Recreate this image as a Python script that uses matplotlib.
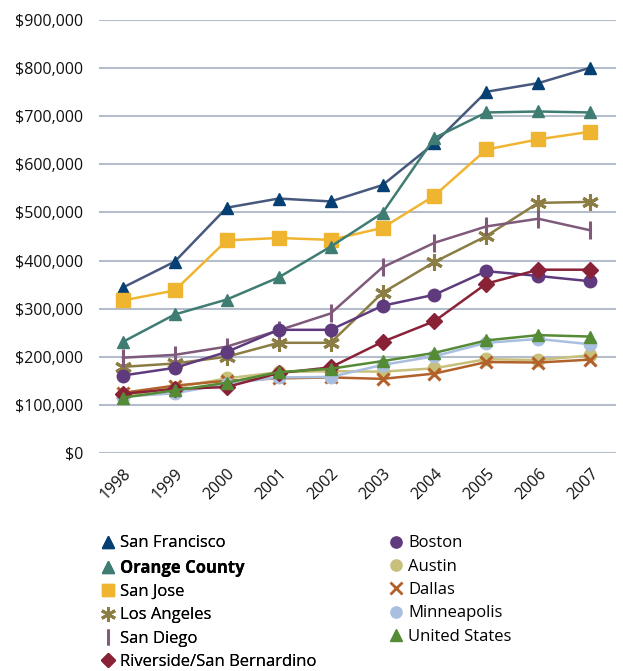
import matplotlib
matplotlib.use("Agg")
import matplotlib.pyplot as plt
from matplotlib.lines import Line2D
from matplotlib.ticker import FuncFormatter

plt.rcParams['font.family'] = ['Open Sans', 'DejaVu Sans']

years = ['1998', '1999', '2000', '2001', '2002', '2003', '2004', '2005', '2006', '2007']

san_francisco = [344000, 398000, 510000, 529000, 523000, 557000, 644000, 751000, 769000, 801000]
orange_county = [231000, 288000, 319000, 365000, 429000, 499000, 655000, 708000, 710000, 708000]
san_jose = [317000, 338000, 442000, 447000, 443000, 468000, 535000, 631000, 652000, 668000]
los_angeles = [179000, 186000, 200000, 229000, 229000, 333000, 397000, 451000, 520000, 522000]
san_diego = [198000, 204000, 221000, 255000, 290000, 386000, 437000, 471000, 487000, 463000]
riverside = [123000, 133000, 137000, 166000, 178000, 231000, 274000, 352000, 381000, 381000]
boston = [161000, 177000, 210000, 256000, 256000, 306000, 329000, 378000, 368000, 357000]
austin = [119000, 136000, 155000, 168000, 170000, 169000, 176000, 195000, 193000, 203000]
dallas = [125000, 140000, 150000, 155000, 157000, 154000, 165000, 189000, 188000, 194000]
minneapolis = [117000, 124000, 144000, 157000, 158000, 183000, 201000, 229000, 237000, 226000]
united_states = [115000, 130000, 146000, 168000, 175000, 191000, 208000, 234000, 245000, 242000]

# name, values, line colour, marker colour, marker, marker size, zorder
series = [
    ('San Francisco', san_francisco, '#46597d', '#063f73', '^', 9, 3),
    ('Orange County', orange_county, '#3f7d73', '#3f7d73', '^', 9, 4),
    ('San Jose', san_jose, '#f0b530', '#f0b530', 's', 10, 3),
    ('Los Angeles', los_angeles, '#8c7d45', '#8c7d45', (6, 2, 0), 12, 3),
    ('San Diego', san_diego, '#7f5a7a', '#7f5a7a', '|', 13, 3),
    ('Riverside/San Bernardino', riverside, '#8a2237', '#8a2237', 'D', 8, 5),
    ('Boston', boston, '#5f3b7d', '#5f3b7d', 'o', 9, 3),
    ('Austin', austin, '#c8c07a', '#c8c07a', 'o', 9, 2),
    ('Dallas', dallas, '#b3612a', '#b3612a', 'x', 9, 2),
    ('Minneapolis', minneapolis, '#a9bfe0', '#a9bfe0', 'o', 9, 3),
    ('United States', united_states, '#568b36', '#568b36', '^', 9, 6),
]
thin_markers = ('x', '|', (6, 2, 0))

fig = plt.figure(figsize=(6.23, 6.71), dpi=100)
ax = fig.add_axes([0.159, 0.325, 0.830, 0.645])

xs = list(range(len(years)))
for name, vals, lc, mc, mk, ms, z in series:
    ax.plot(xs, vals, color=lc, lw=1.8, marker=mk, markersize=ms,
            markerfacecolor=mc, markeredgecolor=mc,
            markeredgewidth=2.2 if mk in thin_markers else 1,
            zorder=z, clip_on=False)

ax.set_ylim(0, 900000)
ax.set_xlim(-0.46, 9.5)
ax.set_yticks(range(0, 900001, 100000))
ax.yaxis.set_major_formatter(FuncFormatter(lambda v, p: '${:,.0f}'.format(v)))
ax.set_xticks(xs)
ax.set_xticklabels(years, rotation=45, ha='right', va='top', rotation_mode='anchor')
ax.grid(axis='y', color='#b5bdcc', lw=1.5)
ax.set_axisbelow(True)
for s in ax.spines.values():
    s.set_visible(False)
ax.tick_params(length=0, labelsize=11.5, colors='#111111')
ax.tick_params(axis='y', pad=11.5)
ax.tick_params(axis='x', pad=9)

def handle(entry):
    name, vals, lc, mc, mk, ms, z = entry
    return Line2D([], [], linestyle='None', marker=mk, markersize=ms * 0.9,
                  markerfacecolor=mc, markeredgecolor=mc,
                  markeredgewidth=2 if mk in thin_markers else 1)

col1 = series[:6]
col2 = series[6:]
leg_kw = dict(loc='upper left', frameon=False, fontsize=12, handlelength=0.8,
              handletextpad=0.3, labelspacing=0.44, borderpad=0)
leg1 = fig.legend([handle(e) for e in col1], [e[0] for e in col1],
                  bbox_to_anchor=(0.1498, 0.2146), **leg_kw)
leg1.get_texts()[1].set_fontweight('bold')
leg2 = fig.legend([handle(e) for e in col2], [e[0] for e in col2],
                  bbox_to_anchor=(0.612, 0.2146), **leg_kw)
fig.add_artist(leg1)

fig.savefig('out.png', dpi=100)
